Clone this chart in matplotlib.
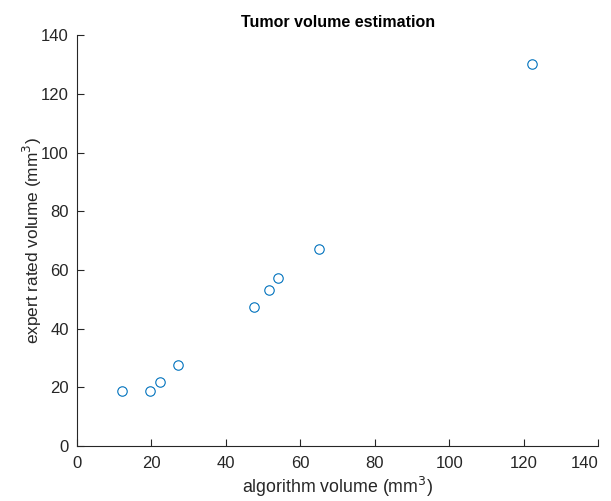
import matplotlib.pyplot as plt

plt.rcParams['font.family'] = ['Liberation Sans', 'DejaVu Sans']

# algorithm vs expert volumes (mm^3)
algo_vol = [12.2, 19.6, 22.2, 27.1, 47.6, 51.5, 54.0, 65.0, 122.1]
expert_vol = [18.8, 18.8, 21.8, 27.5, 47.4, 53.0, 57.2, 67.3, 130.3]

ticks = [0, 20, 40, 60, 80, 100, 120, 140]

fig = plt.figure(figsize=(6.11, 5.01), dpi=100)
ax = fig.add_axes([0.126, 0.1098, 0.853, 0.820])

ax.plot(algo_vol, expert_vol, 'o', mfc='none', mec='#0072BD', ms=6.8, mew=0.8)

ax.set_xlim(0, 140)
ax.set_ylim(0, 140)
ax.set_xticks(ticks)
ax.set_yticks(ticks)

for s in ['top', 'right']:
    ax.spines[s].set_visible(False)
for s in ['left', 'bottom']:
    ax.spines[s].set_color('#262626')
    ax.spines[s].set_linewidth(0.8)
ax.tick_params(direction='in', length=5, width=0.8, colors='#262626',
               labelsize=12, labelcolor='#262626', pad=7)
ax.tick_params(axis='y', pad=6)

# last x label pushed inside like matlab does
ax.get_xticklabels()[-1].set_horizontalalignment('right')

ax.set_xlabel('algorithm volume (mm$^3$)', fontsize=12.8, color='#262626', labelpad=3)
ax.set_ylabel('expert rated volume (mm$^3$)', fontsize=12.4, color='#262626', labelpad=-2)
ax.set_title('Tumor volume estimation', fontsize=11.5, fontweight='bold')

fig.savefig('out.png', dpi=100)
